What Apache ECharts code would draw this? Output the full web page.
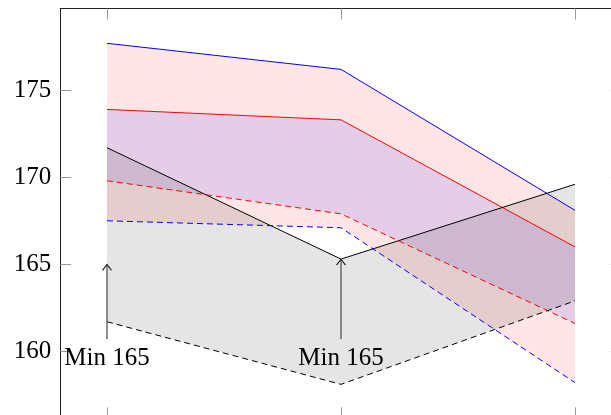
<!DOCTYPE html>
<html>
<head>
<meta charset="utf-8">
<script src="https://cdn.jsdelivr.net/npm/echarts@6/dist/echarts.min.js"></script>
<style>
  html, body { margin: 0; padding: 0; background: #fff; }
  #chart { width: 611px; height: 415px; }
</style>
</head>
<body>
<div id="chart"></div>
<script>
// x positions of the three samples
const xs = [0, 1, 2];

// upper / lower bounds of the three bands
const blueUpper  = [177.7, 176.2, 168.1];
const blueLower  = [167.5, 167.1, 158.2];
const redUpper   = [173.9, 173.3, 166.0];
const redLower   = [169.8, 167.9, 161.6];
const blackUpper = [171.7, 165.3, 169.6];
const blackLower = [161.7, 158.1, 162.9];

// y tick values
const yTicks = [160, 165, 170, 175];
const xTicks = [0, 1, 2];

// "Min" callouts
const minMarkX = [0, 1];
const minMarkY = [165.0, 165.3];

const SERIF = '"Liberation Serif", "DejaVu Serif", serif';
const ARROW_TAIL = 160.7;

const chart = echarts.init(document.getElementById('chart'), null, { renderer: 'canvas' });

function band(upper, lower, fill) {
  return {
    type: 'custom',
    z: 1,
    silent: true,
    clip: false,
    data: [[xs[0], upper[0]]],
    renderItem: function (params, api) {
      const top = xs.map((x, i) => api.coord([x, upper[i]]));
      const bottom = xs.map((x, i) => api.coord([x, lower[i]])).reverse();
      return {
        type: 'polygon',
        shape: { points: top.concat(bottom) },
        style: { fill: fill, stroke: null }
      };
    }
  };
}

function curve(vals, color, dashed) {
  return {
    type: 'line',
    z: 2,
    silent: true,
    symbol: 'none',
    data: xs.map((x, i) => [x, vals[i]]),
    lineStyle: { color: color, width: 1, type: dashed ? [6, 4] : 'solid' }
  };
}

const xAxisBase = {
  type: 'value',
  min: -0.2,
  max: 2.2,
  splitLine: { show: false },
  axisLine: { show: true, onZero: false, lineStyle: { color: '#222', width: 1 } },
  axisTick: { show: true, inside: true, length: 11, customValues: xTicks, lineStyle: { color: '#999', width: 1 } },
  axisLabel: { show: false }
};

const yAxisBase = {
  type: 'value',
  min: 156.15,
  max: 179.7,
  splitLine: { show: false },
  axisLine: { show: true, onZero: false, lineStyle: { color: '#222', width: 1 } },
  axisTick: { show: true, inside: true, length: 11, customValues: yTicks, lineStyle: { color: '#999', width: 1 } }
};

const option = {
  animation: false,
  backgroundColor: '#fff',
  grid: {
    left: 60.2,
    top: 8.5,
    width: 561.6,
    height: 409.8,
    containLabel: false,
    outerBoundsMode: 'none'
  },
  xAxis: [
    Object.assign({}, xAxisBase, { position: 'bottom' }),
    Object.assign({}, xAxisBase, { position: 'top' })
  ],
  yAxis: [
    Object.assign({}, yAxisBase, {
      position: 'left',
      axisLabel: {
        show: true,
        customValues: yTicks,
        margin: 9,
        color: '#000',
        fontFamily: SERIF,
        fontSize: 25
      }
    }),
    Object.assign({}, yAxisBase, { position: 'right', axisLabel: { show: false } })
  ],
  series: [
    band(blueUpper, blueLower, 'rgba(255,0,0,0.1)'),
    band(redUpper, redLower, 'rgba(0,0,255,0.1)'),
    band(blackUpper, blackLower, 'rgba(0,0,0,0.1)'),
    curve(blueUpper, '#0000ff', false),
    curve(redUpper, '#ff0000', false),
    curve(blackUpper, '#000000', false),
    curve(redLower, '#ff0000', true),
    curve(blueLower, '#0000ff', true),
    curve(blackLower, '#000000', true),
    {
      type: 'custom',
      z: 3,
      silent: true,
      clip: false,
      data: minMarkX.map((x, i) => [x, minMarkY[i]]),
      renderItem: function (params, api) {
        const tip = api.coord([api.value(0), api.value(1)]);
        const tail = api.coord([api.value(0), ARROW_TAIL]);
        return {
          type: 'group',
          children: [
            {
              type: 'line',
              shape: { x1: tip[0], y1: tail[1], x2: tip[0], y2: tip[1] + 0.5 },
              style: { stroke: '#555', lineWidth: 1.3 }
            },
            {
              type: 'polyline',
              shape: { points: [[tip[0] - 4.5, tip[1] + 6], [tip[0], tip[1]], [tip[0] + 4.5, tip[1] + 6]] },
              style: { stroke: '#222', lineWidth: 1.1, fill: null }
            },
            {
              type: 'text',
              style: {
                text: 'Min ' + Math.round(api.value(1)),
                x: tip[0],
                y: tail[1] + 19,
                align: 'center',
                verticalAlign: 'middle',
                font: '25px ' + SERIF,
                fill: '#000'
              }
            }
          ]
        };
      }
    }
  ]
};

chart.setOption(option);
</script>
</body>
</html>
